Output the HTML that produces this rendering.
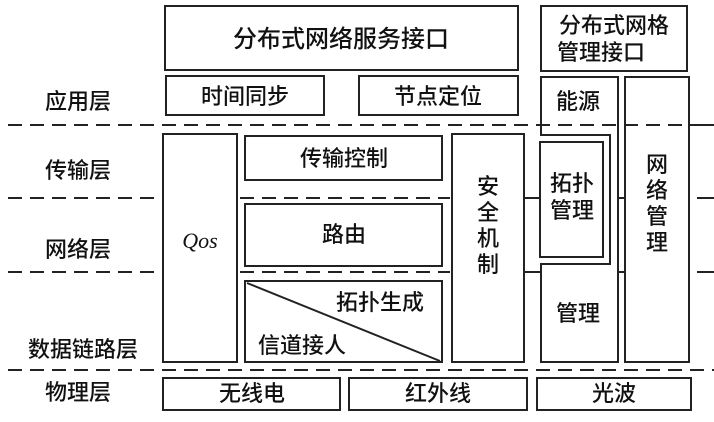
<!DOCTYPE html>
<html><head><meta charset="utf-8"><style>
html,body{margin:0;padding:0;background:#fff;}
svg{display:block;}
text{font-family:"Liberation Sans","Noto Sans CJK SC",sans-serif;font-weight:500;fill:#111;}
</style></head><body>
<svg width="714" height="422" viewBox="0 0 714 422" xmlns="http://www.w3.org/2000/svg">
<g stroke="#222" stroke-width="2" fill="none">
<g stroke-dasharray="14 8">
<line x1="8" y1="125" x2="714" y2="125"/>
<line x1="8" y1="198" x2="160" y2="198"/>
<line x1="240" y1="198" x2="450" y2="198"/>
<line x1="8" y1="272" x2="160" y2="272"/>
<line x1="240" y1="272" x2="450" y2="272"/>
<line x1="8" y1="370" x2="714" y2="370"/>
</g>
<line x1="697" y1="198" x2="714" y2="198"/>
<line x1="697" y1="272" x2="714" y2="272"/>
<line x1="690" y1="125" x2="714" y2="125"/>
<line x1="524" y1="198" x2="541" y2="198"/>
<line x1="524" y1="272" x2="541" y2="272"/>
<line x1="618" y1="198" x2="625" y2="198"/>
<line x1="618" y1="272" x2="625" y2="272"/>
<rect x="165" y="6" width="353" height="64"/>
<rect x="166" y="76" width="158" height="39"/>
<rect x="359" y="76" width="159" height="39"/>
<rect x="163" y="134" width="74" height="228"/>
<rect x="245" y="136" width="197" height="44"/>
<rect x="245" y="204" width="197" height="62"/>
<rect x="245" y="281" width="197" height="81"/>
<line x1="247" y1="283" x2="440" y2="361"/>
<rect x="452" y="134" width="72" height="228"/>
<rect x="163" y="378" width="177" height="32"/>
<rect x="349" y="378" width="178" height="32"/>
<rect x="537" y="378" width="154" height="32"/>
<rect x="541" y="6" width="146" height="65"/>
<path d="M541 135 L541 77 L618 77 L618 362 L541 362 L541 264 L610 264 L610 135 Z"/>
<rect x="540" y="142" width="63" height="115"/>
<rect x="625" y="77" width="64" height="285"/>
</g>
<g font-size="22" text-anchor="middle">
<text x="341" y="47" font-size="24">分布式网络服务接口</text>
<text x="245" y="104">时间同步</text>
<text x="438" y="104">节点定位</text>
<text x="344" y="166">传输控制</text>
<text x="344" y="242">路由</text>
<text x="380" y="310">拓扑生成</text>
<text x="302" y="353">信道接人</text>
<text x="200" y="248" style="font-family:'Liberation Serif',serif;font-style:italic;font-size:22px;">Qos</text>
<text x="488" y="194">安</text>
<text x="488" y="220">全</text>
<text x="488" y="246">机</text>
<text x="488" y="272">制</text>
<text x="252" y="401">无线电</text>
<text x="438" y="401">红外线</text>
<text x="614" y="401">光波</text>
<text x="614" y="33">分布式网格</text>
<text x="601" y="60">管理接口</text>
<text x="578" y="109">能源</text>
<text x="572" y="191">拓扑</text>
<text x="572" y="218">管理</text>
<text x="578" y="321">管理</text>
<text x="657" y="172">网</text>
<text x="657" y="198">络</text>
<text x="657" y="224">管</text>
<text x="657" y="250">理</text>
<text x="78" y="109">应用层</text>
<text x="78" y="178">传输层</text>
<text x="78" y="257">网络层</text>
<text x="83" y="357">数据链路层</text>
<text x="78" y="400">物理层</text>
</g>
</svg>
</body></html>
